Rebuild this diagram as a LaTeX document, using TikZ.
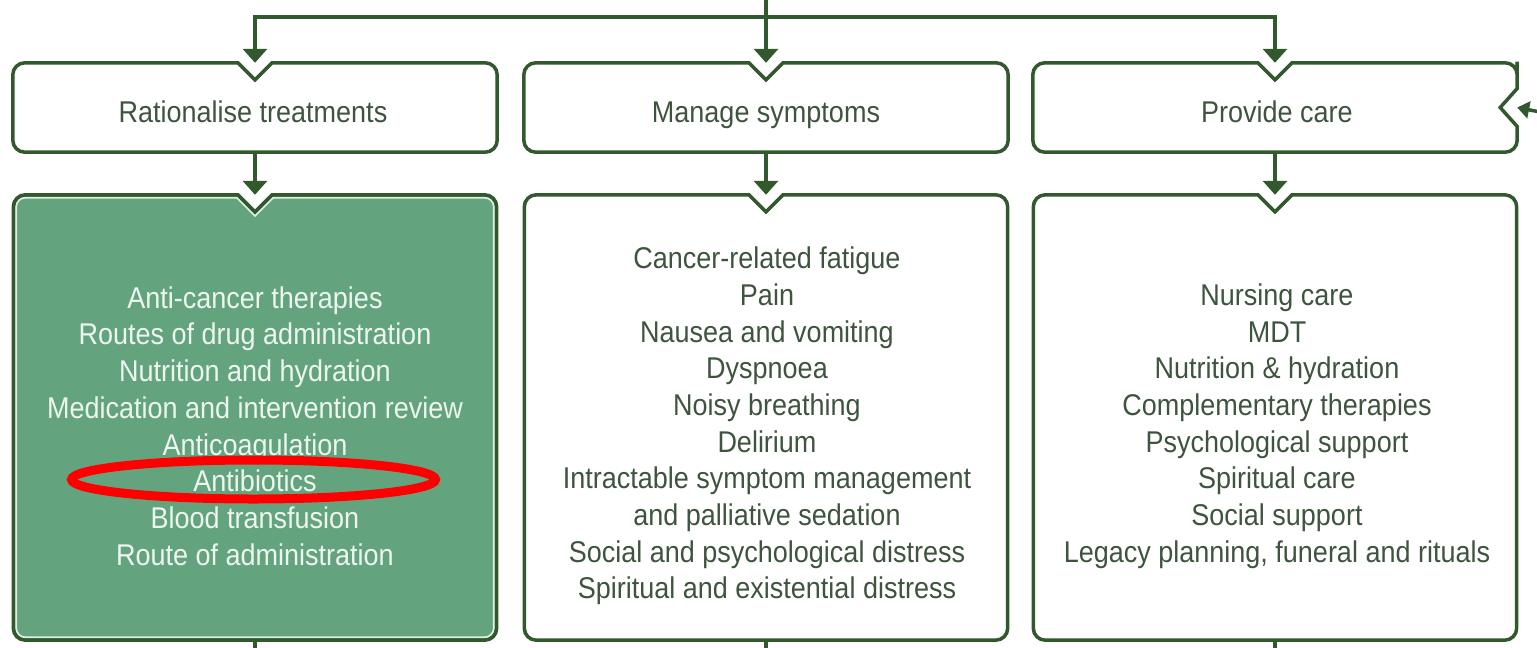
\documentclass[tikz,border=0pt]{standalone}
\usepackage{fontspec}
\setmainfont[FakeStretch=0.9]{Liberation Sans}
\usetikzlibrary{arrows.meta,calc,backgrounds}

\definecolor{edge}{RGB}{50,88,45}
\definecolor{ink}{RGB}{62,84,62}
\definecolor{leaf}{RGB}{99,164,127}
\definecolor{rim}{RGB}{222,238,228}
\definecolor{paleink}{RGB}{238,246,240}
\definecolor{ringred}{RGB}{255,0,0}

% outline of a box with a V notch in the middle of its top edge
\newcommand\topnotch[2]{%
  \path[#1,rounded corners=12pt]
    ($(#2.north)+(40,0)$) -- (#2.north east) -- (#2.south east)
    -- (#2.south west) -- (#2.north west) -- ($(#2.north)+(-40,0)$)
    [sharp corners] -- ($(#2.north)+(-17,0)$) -- ($(#2.north)+(0,17)$)
    -- ($(#2.north)+(17,0)$) -- cycle;}
% the same, with a second notch in the middle of the right edge
\newcommand\twonotch[2]{%
  \path[#1,rounded corners=12pt]
    ($(#2.north)+(40,0)$) -- (#2.north east) -- ($(#2.east)+(0,-34)$)
    [sharp corners] -- ($(#2.east)+(0,-19)$) -- ($(#2.east)+(-17,0)$)
    -- ($(#2.east)+(0,19)$) -- ($(#2.east)+(0,34)$)
    [rounded corners=12pt] -- (#2.south east)
    -- (#2.south west) -- (#2.north west) -- ($(#2.north)+(-40,0)$)
    [sharp corners] -- ($(#2.north)+(-17,0)$) -- ($(#2.north)+(0,17)$)
    -- ($(#2.north)+(17,0)$) -- cycle;}

\begin{document}
\begin{tikzpicture}[x=1pt,y=-1pt,
  holder/.style={inner sep=0pt,minimum height=89pt,minimum width=484pt},
  panel/.style={inner sep=0pt,minimum height=445pt,minimum width=483pt},
  title/.style={anchor=base,inner sep=0pt,text=ink,
    font=\fontsize{30}{36}\selectfont},
  items/.style={align=center,inner sep=0pt,text=ink,
    font=\fontsize{30}{36.7}\selectfont},
  conn/.style={draw=edge,line width=3.5pt,
    -{Triangle[width=24pt,length=14pt]}},
  sidearrow/.style={draw=edge,line width=3.5pt,
    -{Triangle[width=17pt,length=12pt]}},
  wire/.style={draw=edge,line width=3.5pt},
  frame/.style={draw=edge,line width=3.5pt}]
\useasboundingbox (0,0) rectangle (1537,648);

% header boxes
\node[holder] (t1) at (255,107.5) {};
\node[holder] (t2) at (766,107.5) {};
\node[holder] (t3) at (1275,107.5) {};

% list panels
\node[panel] (b1) at (255,417.5) {};
\node[panel] (b2) at (766,417.5) {};
\node[panel] (b3) at (1275,417.5) {};

\topnotch{frame}{t1}
\topnotch{frame}{t2}
\twonotch{frame}{t3}

\begin{pgfonlayer}{background}
  \topnotch{fill=leaf}{b1}
  \begin{scope}
    \topnotch{clip}{b1}
    \topnotch{draw=rim,line width=7.5pt}{b1}
    \topnotch{draw=edge,line width=3.5pt}{b1}
  \end{scope}
\end{pgfonlayer}
\topnotch{frame}{b1}
\topnotch{frame}{b2}
\topnotch{frame}{b3}

% header titles
\node[title] (h1) at (253,122) {Rationalise treatments};
\node[title] (h2) at (766,122) {Manage symptoms};
\node[title] (h3) at (1277,122) {Provide care};

% list texts
\node[items,text=paleink] (l1) at (255,426) {Anti-cancer therapies\\
  Routes of drug administration\\Nutrition and hydration\\
  Medication and intervention review\\Anticoagulation\\Antibiotics\\
  Blood transfusion\\Route of administration};
\node[items] (l2) at (767,426) {Cancer-related fatigue\\Pain\\
  Nausea and vomiting\\Dyspnoea\\Noisy breathing\\Delirium\\
  Intractable symptom management\\and palliative sedation\\
  Social and psychological distress\\Spiritual and existential distress};
\node[items] (l3) at (1277,426) {Nursing care\\MDT\\
  Nutrition \& hydration\\Complementary therapies\\
  Psychological support\\Spiritual care\\Social support\\
  Legacy planning, funeral and rituals};

% incoming connectors
\coordinate (src) at (766,-2);
\coordinate (bus) at (766,17);
\coordinate (side) at (1540,112);
\draw[wire] (src) -- (bus);
\draw[conn] (bus) -| (t1.north);
\draw[conn] (bus) -| (t3.north);
\draw[conn] (src) -- (t2.north);
\draw[sidearrow] (side) -- (t3.east);

% header to panel
\draw[conn] (t1.south) -- (b1.north);
\draw[conn] (t2.south) -- (b2.north);
\draw[conn] (t3.south) -- (b3.north);

% outgoing lines below the panels
\coordinate (o1) at (255,652);
\coordinate (o2) at (766,652);
\coordinate (o3) at (1275,652);
\draw[wire] (b1.south) -- (o1);
\draw[wire] (b2.south) -- (o2);
\draw[wire] (b3.south) -- (o3);

% highlight ring
\draw[ringred,line width=9pt] (253.5,479.5) ellipse [x radius=182,y radius=19.5];
\end{tikzpicture}
\end{document}
